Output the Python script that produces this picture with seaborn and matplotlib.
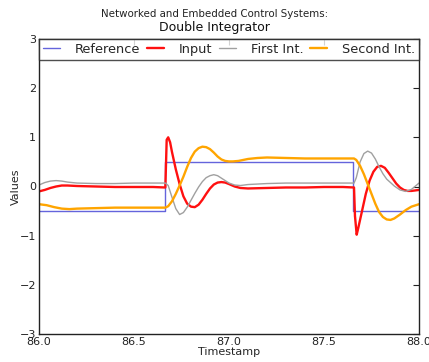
import numpy as np
import pandas as pd
import matplotlib
matplotlib.use("Agg")
import matplotlib.pyplot as plt
import seaborn as sns

# ---- data ----
ref_t = [86.0, 86.663, 86.663, 87.655, 87.655, 88.0]
ref_v = [-0.5, -0.5, 0.5, 0.5, -0.5, -0.5]

inp_t = [86.00, 86.03, 86.06, 86.09, 86.12, 86.15, 86.20, 86.30, 86.40, 86.50, 86.60,
         86.665, 86.672, 86.68, 86.69, 86.70, 86.72, 86.74, 86.76, 86.78, 86.80, 86.82,
         86.84, 86.86, 86.88, 86.90, 86.92, 86.94, 86.96, 86.98, 87.00, 87.03, 87.06,
         87.10, 87.20, 87.30, 87.40, 87.50, 87.60, 87.658, 87.663, 87.672, 87.68, 87.70,
         87.72, 87.74, 87.76, 87.78, 87.80, 87.82, 87.84, 87.86, 87.88, 87.90, 87.92,
         87.94, 87.96, 87.98, 88.00]
inp_v = [-0.10, -0.07, -0.03, 0.00, 0.02, 0.02, 0.01, 0.00, -0.01, -0.01, -0.01,
         -0.02, 0.95, 1.00, 0.90, 0.70, 0.35, 0.05, -0.20, -0.35, -0.41, -0.42,
         -0.37, -0.27, -0.15, -0.04, 0.04, 0.08, 0.09, 0.08, 0.05, 0.00, -0.03,
         -0.04, -0.03, -0.02, -0.02, -0.01, -0.01, -0.02, -0.60, -0.98, -0.85, -0.50,
         -0.15, 0.12, 0.30, 0.40, 0.42, 0.38, 0.28, 0.17, 0.06, -0.02, -0.07,
         -0.09, -0.09, -0.08, -0.07]

first_t = [86.00, 86.03, 86.06, 86.09, 86.12, 86.15, 86.20, 86.30, 86.40, 86.50, 86.60,
           86.665, 86.68, 86.70, 86.72, 86.74, 86.76, 86.78, 86.80, 86.82, 86.84, 86.86,
           86.88, 86.90, 86.92, 86.94, 86.96, 86.98, 87.00, 87.03, 87.06, 87.10, 87.20,
           87.30, 87.40, 87.50, 87.60, 87.658, 87.67, 87.69, 87.71, 87.73, 87.75, 87.77,
           87.79, 87.81, 87.83, 87.85, 87.87, 87.90, 87.93, 87.96, 88.00]
first_v = [0.03, 0.08, 0.11, 0.12, 0.11, 0.09, 0.07, 0.06, 0.06, 0.07, 0.07,
           0.07, 0.02, -0.22, -0.45, -0.57, -0.53, -0.42, -0.28, -0.14, -0.01, 0.10,
           0.18, 0.22, 0.24, 0.22, 0.17, 0.12, 0.07, 0.03, 0.02, 0.04, 0.06,
           0.07, 0.07, 0.07, 0.07, 0.07, 0.18, 0.50, 0.67, 0.72, 0.68, 0.56,
           0.40, 0.26, 0.15, 0.08, 0.01, -0.07, -0.10, -0.06, 0.07]

second_t = [86.00, 86.04, 86.08, 86.12, 86.16, 86.20, 86.30, 86.40, 86.50, 86.60, 86.665,
            86.68, 86.70, 86.72, 86.74, 86.76, 86.78, 86.80, 86.82, 86.84, 86.86, 86.88,
            86.90, 86.92, 86.94, 86.96, 86.98, 87.00, 87.02, 87.05, 87.10, 87.15, 87.20,
            87.30, 87.40, 87.50, 87.60, 87.658, 87.67, 87.69, 87.71, 87.73, 87.75, 87.77,
            87.79, 87.81, 87.83, 87.85, 87.87, 87.90, 87.93, 87.96, 88.00]
second_v = [-0.36, -0.38, -0.42, -0.45, -0.46, -0.45, -0.44, -0.43, -0.43, -0.43, -0.43,
            -0.40, -0.30, -0.15, 0.02, 0.20, 0.40, 0.58, 0.71, 0.78, 0.81, 0.80,
            0.76, 0.69, 0.61, 0.55, 0.52, 0.51, 0.51, 0.52, 0.56, 0.58, 0.59,
            0.58, 0.57, 0.57, 0.57, 0.57, 0.54, 0.42, 0.25, 0.05, -0.15, -0.35,
            -0.52, -0.62, -0.67, -0.68, -0.65, -0.57, -0.48, -0.41, -0.36]

labels = ["Reference", "Input", "First Int.", "Second Int."]
x_ticks = [86.0, 86.5, 87.0, 87.5, 88.0]
y_ticks = [-3, -2, -1, 0, 1, 2, 3]

# ---- plotting ----
sns.set_style("white")
plt.rcParams["font.family"] = ["DejaVu Sans"]
plt.rcParams["xtick.direction"] = "in"
plt.rcParams["ytick.direction"] = "in"

fig = plt.figure(figsize=(4.29, 3.62), dpi=100)
ax = fig.add_axes([39 / 429, 1 - 334 / 362, 380 / 429, 295 / 362])

series = [(ref_t, ref_v, "#6464dc", 1.0),
          (inp_t, inp_v, "#ff1010", 1.7),
          (first_t, first_v, "#a0a0a0", 1.0),
          (second_t, second_v, "#ffa500", 1.7)]
for (t, v, c, lw), lab in zip(series, labels):
    df = pd.DataFrame({"t": t, "v": v})
    sns.lineplot(data=df, x="t", y="v", ax=ax, color=c, linewidth=lw,
                 estimator=None, sort=False, label=lab)

ax.set_xlim(86.0, 88.0)
ax.set_ylim(-3, 3)
ax.set_xticks(x_ticks)
ax.set_xticklabels([f"{x:.1f}" for x in x_ticks])
ax.set_yticks(y_ticks)
ax.set_yticklabels([f"{y}".replace("-", "\u2212") for y in y_ticks])
ax.tick_params(axis="both", labelsize=8, length=4, width=0.8, colors="#222222",
               top=True, right=True, pad=2)
for s in ax.spines.values():
    s.set_color("#222222")
    s.set_linewidth(1.0)
ax.set_xlabel("Timestamp", fontsize=8, labelpad=0)
ax.set_ylabel("Values", fontsize=8, labelpad=-1)

leg = ax.legend(loc="upper center", bbox_to_anchor=(0, 0, 1, 1), mode="expand",
                ncol=4, fontsize=9.3, borderaxespad=0, fancybox=False, frameon=True,
                handlelength=1.3, handletextpad=1.15, columnspacing=0.6,
                borderpad=0.3)
leg.get_frame().set_edgecolor("#222222")
leg.get_frame().set_linewidth(1.0)
for h in leg.get_lines():
    h.set_linewidth(h.get_linewidth())

fig.text(0.5, 1 - 14 / 362, "Networked and Embedded Control Systems:", ha="center",
         va="center", fontsize=7.4, color="#222222")
fig.text(0.5, 1 - 28 / 362, "Double Integrator", ha="center", va="center",
         fontsize=9, color="#111111")

fig.savefig("out.png", dpi=100)
